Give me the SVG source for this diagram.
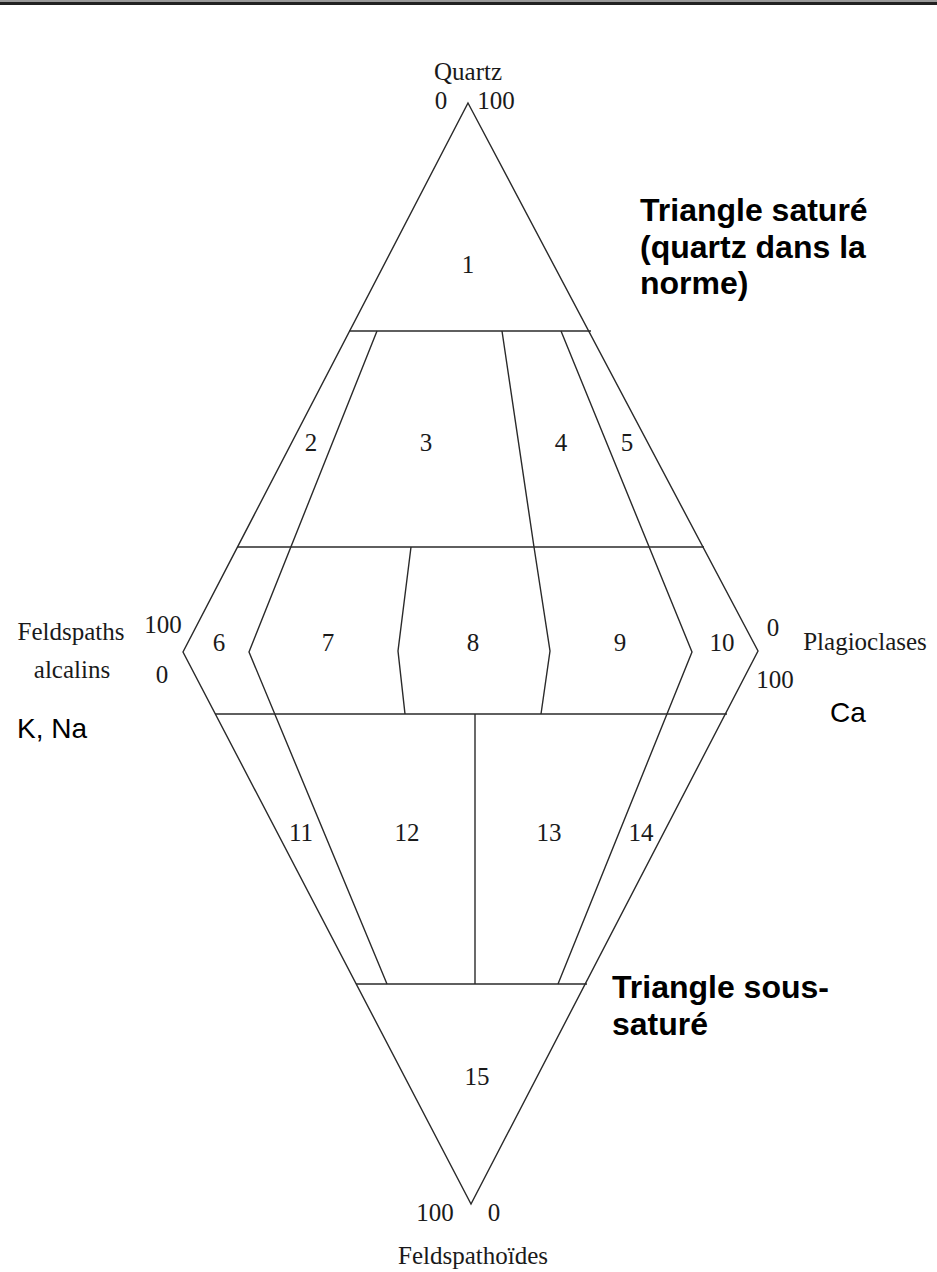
<svg xmlns="http://www.w3.org/2000/svg" width="937" height="1272" viewBox="0 0 937 1272">
<style>
.ln{stroke:#2a2a2a;stroke-width:1.4;fill:none;stroke-linejoin:miter}
.n{font-family:"Liberation Serif","Times New Roman",serif;font-size:25px;fill:#1a1a1a;text-anchor:middle}
.b{font-family:"Liberation Sans",Arial,sans-serif;font-size:32px;font-weight:bold;fill:#000}
.a{font-family:"Liberation Sans",Arial,sans-serif;font-size:28px;fill:#000}
</style>
<rect x="0" y="0" width="937" height="1272" fill="#fff"/>
<rect x="0" y="0" width="937" height="2" fill="#9a9a9a"/>
<rect x="0" y="2" width="937" height="3" fill="#222"/>
<g id="connectors">
<polygon class="ln" points="468,103 758,651 471,1204 183,652"/>
<line class="ln" x1="349" y1="331" x2="591" y2="331"/>
<line class="ln" x1="237" y1="547" x2="704" y2="547"/>
<line class="ln" x1="215" y1="714" x2="727" y2="714"/>
<line class="ln" x1="356" y1="984" x2="587" y2="984"/>
<polyline class="ln" points="377,331 249,652 387,984"/>
<polyline class="ln" points="561,331 692,652 558,984"/>
<polyline class="ln" points="502,331 534,547 550,651 541,714"/>
<polyline class="ln" points="411,547 398,651 405,714"/>
<line class="ln" x1="475" y1="714" x2="475" y2="984"/>
</g>
<g id="axis-labels">
<text class="n" x="468" y="80">Quartz</text>
<text class="n" x="441" y="109">0</text>
<text class="n" x="496" y="109">100</text>
<text class="n" x="71" y="640">Feldspaths</text>
<text class="n" x="72" y="678">alcalins</text>
<text class="n" x="163" y="633">100</text>
<text class="n" x="162" y="683">0</text>
<text class="n" x="773" y="636">0</text>
<text class="n" x="775" y="688">100</text>
<text class="n" x="865" y="650">Plagioclases</text>
<text class="n" x="435" y="1221">100</text>
<text class="n" x="494" y="1221">0</text>
<text class="n" x="473" y="1264">Feldspathoïdes</text>
<text class="a" x="830" y="722">Ca</text>
<text class="a" x="17" y="738">K, Na</text>
</g>
<g id="fields">
<text class="n" x="468" y="273">1</text>
<text class="n" x="311" y="451">2</text>
<text class="n" x="426" y="451">3</text>
<text class="n" x="561" y="451">4</text>
<text class="n" x="627" y="451">5</text>
<text class="n" x="219" y="651">6</text>
<text class="n" x="328" y="651">7</text>
<text class="n" x="473" y="651">8</text>
<text class="n" x="620" y="651">9</text>
<text class="n" x="722" y="651">10</text>
<text class="n" x="301" y="841">11</text>
<text class="n" x="407" y="841">12</text>
<text class="n" x="549" y="841">13</text>
<text class="n" x="641" y="841">14</text>
<text class="n" x="477" y="1085">15</text>
</g>
<g id="notes">
<text class="b" x="640" y="221">Triangle saturé</text>
<text class="b" x="640" y="258">(quartz dans la</text>
<text class="b" x="640" y="294">norme)</text>
<text class="b" x="612" y="998">Triangle sous-</text>
<text class="b" x="612" y="1035">saturé</text>
</g>
</svg>
